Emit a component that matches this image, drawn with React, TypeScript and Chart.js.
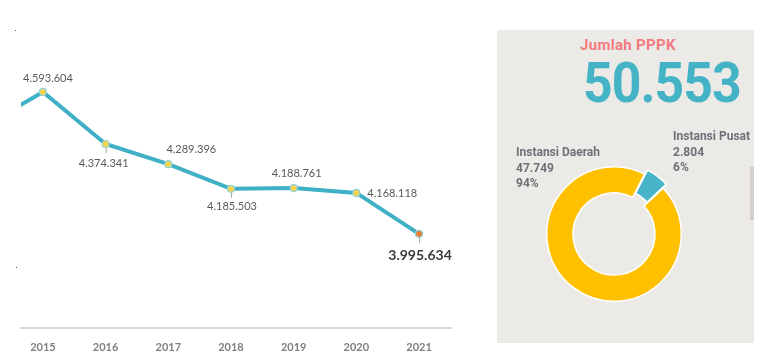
import React, { useEffect, useRef } from "react";
import { Chart, registerables } from "chart.js";

Chart.register(...registerables);

// ---- Data ----
const years = [2014, 2015, 2016, 2017, 2018, 2019, 2020, 2021];
const employeeCounts = [4440000, 4593604, 4374341, 4289396, 4185503, 4188761, 4168118, 3995634];
const xTickLabels = ["2015", "2016", "2017", "2018", "2019", "2020", "2021"];

const pppkTitle = "Jumlah PPPK";
const pppkTotal = 50553;
const pppkCategories = ["Instansi Daerah", "Instansi Pusat"];
const pppkValues = [47749, 2804];
const pppkPercents = ["94%", "6%"];

// ---- Styling (not data) ----
const labelPlacement: ({ dx: number; dy: number; align: CanvasTextAlign; leader?: boolean; bold?: boolean } | null)[] = [
  null,
  { dx: 5, dy: -14, align: "center" },
  { dx: -2, dy: 19, align: "center", leader: true },
  { dx: 23, dy: -15, align: "center" },
  { dx: 1, dy: 18, align: "center", leader: true },
  { dx: 3, dy: -15, align: "center" },
  { dx: 11, dy: 1, align: "left" },
  { dx: 1, dy: 22, align: "center", leader: true, bold: true },
];

const fmt = (n: number) => String(n).replace(/\B(?=(\d{3})+(?!\d))/g, ".");

const labelPlugin = {
  id: "pointLabels",
  afterDatasetsDraw(chart: any) {
    const meta = chart.getDatasetMeta(0);
    const ctx = chart.ctx as CanvasRenderingContext2D;
    ctx.save();
    meta.data.forEach((pt: any, i: number) => {
      const pl = labelPlacement[i];
      if (!pl) return;
      if (pl.leader) {
        ctx.strokeStyle = "#a6a6a6";
        ctx.lineWidth = 1;
        ctx.beginPath();
        ctx.moveTo(pt.x + 0.5, pt.y + 4);
        ctx.lineTo(pt.x + 0.5, pt.y + 9);
        ctx.stroke();
      }
      ctx.font = pl.bold ? "bold 14px Lato" : "11px Lato";
      ctx.fillStyle = pl.bold ? "#3a3a3a" : "#595959";
      ctx.textAlign = pl.align;
      ctx.textBaseline = "middle";
      ctx.fillText(fmt(employeeCounts[i]), pt.x + pl.dx, pt.y + pl.dy);
    });
    ctx.restore();
  },
};

function LineChart() {
  const ref = useRef<HTMLCanvasElement>(null);
  useEffect(() => {
    if (!ref.current) return;
    const pointColors = employeeCounts.map((_, i) => (i === employeeCounts.length - 1 ? "#ef7d2e" : "#f8d44c"));
    const chart = new Chart(ref.current, {
      type: "line",
      data: {
        datasets: [
          {
            data: years.map((y, i) => ({ x: y, y: employeeCounts[i] })),
            borderColor: "#3fb0c5",
            borderWidth: 4,
            tension: 0,
            pointRadius: 3.5,
            pointBackgroundColor: pointColors,
            pointBorderColor: "#8fd3df",
            pointBorderWidth: 1.2,
            clip: { left: 0, right: false, top: false, bottom: false } as any,
          },
        ],
      },
      options: {
        animation: false,
        responsive: false,
        devicePixelRatio: 1,
        layout: { padding: { left: 21, right: 19, top: 20, bottom: 0 } },
        plugins: { legend: { display: false }, tooltip: { enabled: false } },
        scales: {
          x: {
            type: "linear",
            min: 2014.65,
            max: 2021.51,
            afterBuildTicks: (s: any) => {
              s.ticks = xTickLabels.map((v) => ({ value: Number(v) }));
            },
            ticks: {
              callback: (v: any) => String(v),
              color: "#7f7f7f",
              font: { family: "Lato", size: 11, weight: "bold" },
              padding: 13,
              autoSkip: false,
              maxRotation: 0,
            },
            grid: { display: false, drawTicks: false },
            border: { display: true, color: "#d9d9d9", width: 2 },
          },
          y: {
            display: false,
            min: 3599800,
            max: 4896800,
          },
        },
      },
      plugins: [labelPlugin],
    });
    return () => chart.destroy();
  }, []);
  return <canvas ref={ref} width={470} height={367} style={{ position: "absolute", left: 0, top: 0 }} />;
}

function DonutChart() {
  const ref = useRef<HTMLCanvasElement>(null);
  useEffect(() => {
    if (!ref.current) return;
    const chart = new Chart(ref.current, {
      type: "doughnut",
      data: {
        labels: pppkCategories,
        datasets: [
          {
            data: pppkValues,
            backgroundColor: ["#ffc000", "#47b4c8"],
            borderColor: "#ffffff",
            borderWidth: 1.5,
            offset: [0, 12],
          },
        ],
      },
      options: {
        animation: false,
        responsive: false,
        devicePixelRatio: 1,
        rotation: 47,
        cutout: "61%",
        plugins: { legend: { display: false }, tooltip: { enabled: false } },
      },
    });
    return () => chart.destroy();
  }, []);
  return <canvas ref={ref} width={148} height={148} style={{ position: "absolute", left: 540, top: 160 }} />;
}

const din = "Roboto, 'DejaVu Sans', sans-serif";

export default function App() {
  return (
    <div style={{ position: "absolute", left: 0, top: 0, width: 772, height: 361, background: "#ffffff", overflow: "hidden" }}>
      <div style={{ position: "absolute", left: 15, top: 30, width: 1, height: 1, background: "#555" }} />
      <div style={{ position: "absolute", left: 16, top: 267, width: 1, height: 1, background: "#555" }} />
      <LineChart />
      <div style={{ position: "absolute", left: 497, top: 30, width: 257, height: 313, background: "#ebeae7" }} />
      <div style={{ position: "absolute", left: 750, top: 167, width: 4, height: 53, background: "#d3cec7" }} />
      <div
        style={{
          position: "absolute",
          left: 580,
          top: 36,
          lineHeight: "18px",
          fontFamily: din,
          fontWeight: 700,
          fontSize: 15,
          color: "#f27b80",
          letterSpacing: 0.3,
          whiteSpace: "nowrap",
        }}
      >
        {pppkTitle}
      </div>
      <div
        style={{
          position: "absolute",
          left: 583,
          top: 53,
          lineHeight: "60px",
          fontFamily: din,
          fontWeight: 700,
          fontSize: 55,
          color: "#45b3c6",
          letterSpacing: -1,
          whiteSpace: "nowrap",
          transform: "scaleX(0.94)",
          transformOrigin: "left center",
        }}
      >
        {fmt(pppkTotal)}
      </div>
      <DonutChart />
      <div
        style={{
          position: "absolute",
          left: 516,
          top: 145,
          lineHeight: "15.5px",
          fontFamily: din,
          fontWeight: 700,
          fontSize: 12,
          color: "#717077",
          whiteSpace: "nowrap",
        }}
      >
        <div>{pppkCategories[0]}</div>
        <div>{fmt(pppkValues[0])}</div>
        <div>{pppkPercents[0]}</div>
      </div>
      <div
        style={{
          position: "absolute",
          left: 673,
          top: 129,
          width: 81,
          overflow: "hidden",
          lineHeight: "15.5px",
          fontFamily: din,
          fontWeight: 700,
          fontSize: 12,
          color: "#717077",
          whiteSpace: "nowrap",
        }}
      >
        <div>{pppkCategories[1]}</div>
        <div>{fmt(pppkValues[1])}</div>
        <div>{pppkPercents[1]}</div>
      </div>
    </div>
  );
}
